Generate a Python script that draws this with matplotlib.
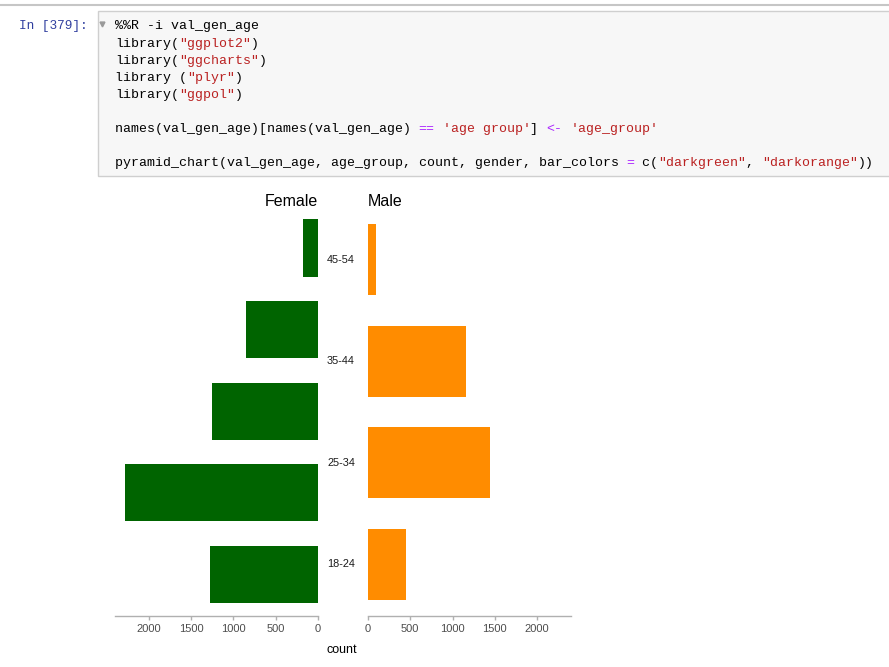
import matplotlib
matplotlib.use("Agg")
import matplotlib.pyplot as plt
from matplotlib.patches import Rectangle
from matplotlib.transforms import blended_transform_factory

# ---------------- data ----------------
age_groups = ["18-24", "25-34", "35-44", "45-54"]
female_counts = [1278, 2284, 1254, 852, 177]   # 5 bars drawn on the female side
male_counts = [447, 1447, 1165, 94]
count_ticks = [0, 500, 1000, 1500, 2000]
female_color = "#006400"   # darkgreen
male_color = "#FF8C00"     # darkorange

W, H = 889, 667
fig = plt.figure(figsize=(W / 100, H / 100), dpi=100)

# ---------------- notebook cell overlay (pixel coordinates) ----------------
ov = fig.add_axes([0, 0, 1, 1], zorder=0)
ov.set_xlim(0, W)
ov.set_ylim(H, 0)
ov.axis("off")
ov.patch.set_alpha(0)

ov.plot([0, W], [4.5, 4.5], color="#c6c6c6", lw=1.5)
ov.add_patch(Rectangle((97.5, 10.5), 800, 165, facecolor="#f7f7f7",
                       edgecolor="#cfcfcf", lw=1))
ov.text(88, 29.5, "In [379]:", family="Liberation Mono", fontsize=9.2,
        color="#303F9F", ha="right", va="baseline")
ov.plot([102], [24], marker="v", color="#9a9a9a", markersize=3.5)

BLK, RED, PUR = "#000000", "#BA2121", "#AA22FF"
code_lines = [
    [("%%R -i val_gen_age", BLK)],
    [("library(", BLK), ('"ggplot2"', RED), (")", BLK)],
    [("library(", BLK), ('"ggcharts"', RED), (")", BLK)],
    [("library (", BLK), ('"plyr"', RED), (")", BLK)],
    [("library(", BLK), ('"ggpol"', RED), (")", BLK)],
    [],
    [("names(val_gen_age)[names(val_gen_age) ", BLK), ("==", PUR), (" ", BLK),
     ("'age group'", RED), ("] ", BLK), ("<-", PUR), (" ", BLK), ("'age_group'", RED)],
    [],
    [("pyramid_chart(val_gen_age, age_group, count, gender, bar_colors ", BLK),
     ("=", PUR), (" c(", BLK), ('"darkgreen"', RED), (", ", BLK),
     ('"darkorange"', RED), ("))", BLK)],
]
cw = 7.99
for i, segs in enumerate(code_lines):
    y = 29.5 + 17.1 * i
    col = 0
    for txt, c in segs:
        if txt.strip():
            ov.text(115 + col * cw, y, txt, family="Liberation Mono",
                    fontsize=cw / 0.6 * 0.72, color=c, ha="left", va="baseline")
        col += len(txt)

# ---------------- pyramid chart ----------------
top_px, bot_px = 199, 616
ax_h = (bot_px - top_px) / H
ax_b = (H - bot_px) / H
ax_f = fig.add_axes([115 / W, ax_b, 203 / W, ax_h], zorder=2)
ax_m = fig.add_axes([368 / W, ax_b, 203 / W, ax_h], zorder=2)

fpos = list(range(1, len(female_counts) + 1))
mpos = list(range(1, len(male_counts) + 1))
ax_f.barh(fpos, female_counts, height=0.7, color=female_color)
ax_m.barh(mpos, male_counts, height=0.7, color=male_color)

xmax = 2402
ax_f.set_xlim(xmax, 0)
ax_m.set_xlim(0, xmax)
ax_f.set_ylim(0.49, len(female_counts) + 0.6)
ax_m.set_ylim(0.49, len(male_counts) + 0.6)

for ax in (ax_f, ax_m):
    ax.patch.set_alpha(0)
    for s in ("top", "left", "right"):
        ax.spines[s].set_visible(False)
    ax.spines["bottom"].set_color("#b0b0b0")
    ax.spines["bottom"].set_linewidth(1.0)
    ax.set_yticks([])
    ax.set_xticks(count_ticks)
    ax.set_xticklabels([str(t) for t in count_ticks])
    ax.tick_params(axis="x", length=3, width=1, color="#b0b0b0",
                   labelsize=8, labelcolor="#4d4d4d", pad=3)
    for lab in ax.get_xticklabels():
        lab.set_family("Liberation Sans")

# age group labels between the panels
tr = blended_transform_factory(ax_m.transAxes, ax_m.transData)
for p, lab in zip(mpos, age_groups):
    ax_m.text(-27 / 203, p, lab, transform=tr, ha="center", va="center",
              fontsize=7.8, family="Liberation Sans", color="#1a1a1a")

ax_f.text(1.0, 1.0 - 2 / 417, "Female", transform=ax_f.transAxes, ha="right",
          va="center", fontsize=11.5, family="Liberation Sans", color="#000000")
ax_m.text(0.0, 1.0 - 2 / 417, "Male", transform=ax_m.transAxes, ha="left",
          va="center", fontsize=11.5, family="Liberation Sans", color="#000000")

ov.text(342, 650, "count", ha="center", va="center", fontsize=9,
        family="Liberation Sans", color="#000000")

fig.savefig("out.png", dpi=100)
